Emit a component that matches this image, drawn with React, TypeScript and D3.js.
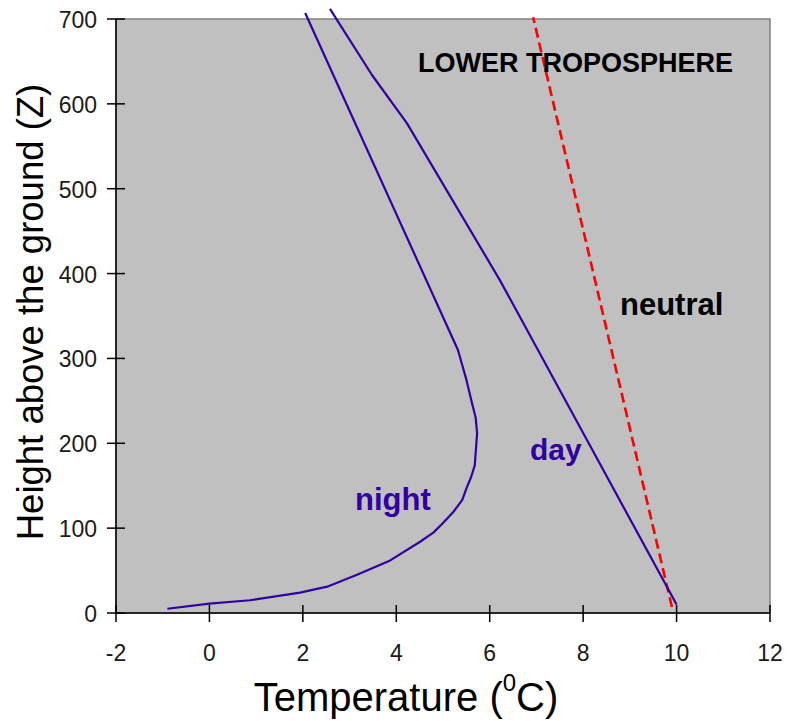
import React from "react";
import * as d3 from "d3";

// Temperature profiles (°C) against height above the ground (m)
const nightTemp = [-0.9, 0.0, 0.87, 1.94, 2.52, 3.16, 3.87, 4.51, 4.8, 5.0, 5.22, 5.41, 5.51, 5.6, 5.68, 5.73, 5.7, 5.64, 5.5, 5.32, 2.05];
const nightHeight = [5, 11, 15, 24, 31, 45, 62, 84, 95, 106, 119, 133, 148, 160, 174, 212, 230, 243, 275, 310, 707];

const dayTemp = [10.0, 6.22, 4.23, 3.48, 2.58];
const dayHeight = [10, 392, 577, 634, 712];

const neutralTemp = [9.9, 6.93];
const neutralHeight = [7, 702];

const xTicks = [-2, 0, 2, 4, 6, 8, 10, 12];
const yTicks = [0, 100, 200, 300, 400, 500, 600, 700];

const W = 787;
const H = 721;
const plot = { left: 116, right: 770, top: 19, bottom: 613 };

const FONT = "'Liberation Sans', Arial, sans-serif";
const PURPLE = "#3300a0";

export default function App() {
  const x = d3.scaleLinear().domain([-2, 12]).range([plot.left, plot.right]);
  const y = d3.scaleLinear().domain([0, 700]).range([plot.bottom, plot.top]);

  const line = d3
    .line<[number, number]>()
    .x((d) => x(d[0]))
    .y((d) => y(d[1]));

  const zip = (a: number[], b: number[]) => a.map((v, i) => [v, b[i]] as [number, number]);

  const nightPath = line(zip(nightTemp, nightHeight)) || "";
  const dayPath = line(zip(dayTemp, dayHeight)) || "";
  const neutralPath = line(zip(neutralTemp, neutralHeight)) || "";

  return (
    <svg
      width={W}
      height={H}
      style={{ position: "absolute", left: 0, top: 0, display: "block" }}
    >
      <rect x={0} y={0} width={W} height={H} fill="#ffffff" />
      {/* plot area */}
      <rect
        x={plot.left}
        y={plot.top}
        width={plot.right - plot.left}
        height={plot.bottom - plot.top}
        fill="#c0c0c0"
        stroke="#808080"
        strokeWidth={1.5}
      />

      {/* y axis */}
      <line x1={plot.left} x2={plot.left} y1={plot.top} y2={plot.bottom} stroke="#000" strokeWidth={1.5} />
      {yTicks.map((t) => (
        <g key={"y" + t}>
          <line x1={plot.left - 9} x2={plot.left + 9} y1={y(t)} y2={y(t)} stroke="#000" strokeWidth={1.5} />
          <text
            x={97}
            y={y(t) + 9}
            textAnchor="end"
            fontFamily={FONT}
            fontSize={23}
            fill="#1a1a1a"
          >
            {t}
          </text>
        </g>
      ))}

      {/* x axis */}
      <line x1={plot.left} x2={plot.right} y1={plot.bottom} y2={plot.bottom} stroke="#000" strokeWidth={1.5} />
      {xTicks.map((t) => (
        <g key={"x" + t}>
          <line x1={x(t)} x2={x(t)} y1={plot.bottom - 8} y2={plot.bottom + 9} stroke="#000" strokeWidth={1.5} />
          <text
            x={x(t)}
            y={661}
            textAnchor="middle"
            fontFamily={FONT}
            fontSize={23}
            fill="#1a1a1a"
          >
            {t}
          </text>
        </g>
      ))}

      {/* profiles */}
      <path d={neutralPath} fill="none" stroke="#ff0000" strokeWidth={2.6} strokeDasharray="10,5" />
      <path d={nightPath} fill="none" stroke={PURPLE} strokeWidth={2.2} strokeLinejoin="round" />
      <path d={dayPath} fill="none" stroke={PURPLE} strokeWidth={2.2} strokeLinejoin="round" />

      {/* annotations */}
      <text x={418} y={72} fontFamily={FONT} fontSize={27} fontWeight="bold" fill="#000">
        LOWER TROPOSPHERE
      </text>
      <text x={620} y={315} fontFamily={FONT} fontSize={31} fontWeight="bold" fill="#000">
        neutral
      </text>
      <text x={530} y={460} fontFamily={FONT} fontSize={30} fontWeight="bold" fill={PURPLE}>
        day
      </text>
      <text x={355} y={510} fontFamily={FONT} fontSize={31} fontWeight="bold" fill={PURPLE}>
        night
      </text>

      {/* axis titles */}
      <text
        transform={`translate(43, 312) rotate(-90)`}
        textAnchor="middle"
        fontFamily={FONT}
        fontSize={36.5}
        fill="#000"
      >
        Height above the ground (Z)
      </text>
      <text x={406} y={711} textAnchor="middle" fontFamily={FONT} fontSize={40} fill="#000">
        Temperature (
        <tspan fontSize={24} dy={-20}>
          0
        </tspan>
        <tspan dy={20}>C)</tspan>
      </text>
    </svg>
  );
}
